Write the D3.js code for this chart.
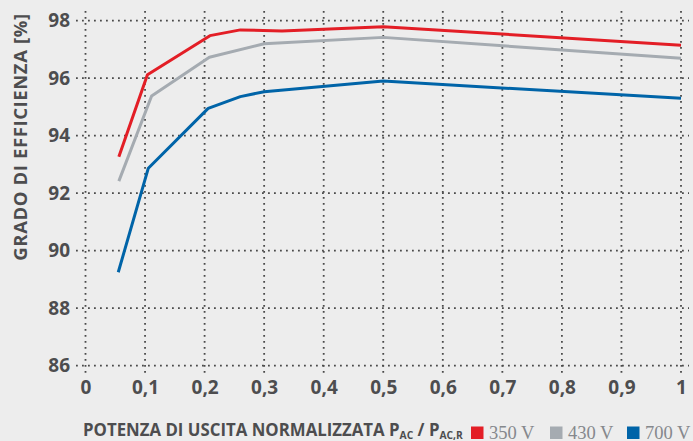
<!DOCTYPE html>
<html>
<head>
<meta charset="utf-8">
<script src="https://cdn.jsdelivr.net/npm/d3@7"></script>
<style>
  html, body { margin: 0; padding: 0; background: #ededed; }
  svg { display: block; }
  .cond { font-family: "Open Sans", "DejaVu Sans", sans-serif; font-weight: bold; fill: #4d4d4f; }
  .serif { font-family: "Liberation Serif", "DejaVu Serif", serif; fill: #85888c; }
</style>
</head>
<body>
<script>
// ---- data ----
const seriesNames = ["350 V", "430 V", "700 V"];
const seriesColors = ["#e31e26", "#a5abb1", "#0064a8"];
const x350 = [0.056, 0.104, 0.209, 0.26, 0.33, 0.5, 1.0];
const y350 = [93.27, 96.12, 97.48, 97.68, 97.64, 97.79, 97.15];
const x430 = [0.056, 0.111, 0.208, 0.3, 0.5, 1.0];
const y430 = [92.42, 95.38, 96.73, 97.2, 97.42, 96.69];
const x700 = [0.055, 0.1055, 0.206, 0.26, 0.3, 0.5, 1.0];
const y700 = [89.25, 92.87, 94.95, 95.36, 95.53, 95.9, 95.3];
const xTicks = [0, 0.1, 0.2, 0.3, 0.4, 0.5, 0.6, 0.7, 0.8, 0.9, 1];
const yTicks = [86, 88, 90, 92, 94, 96, 98];
const yLabel = "GRADO DI EFFICIENZA [%]";
const xLabel = "POTENZA DI USCITA NORMALIZZATA P";

const W = 693, H = 441;
const svg = d3.select("body").append("svg").attr("width", W).attr("height", H);
svg.append("rect").attr("width", W).attr("height", H).attr("fill", "#ededed");

const x = d3.scaleLinear().domain([0, 1]).range([85.5, 681]);
const y = d3.scaleLinear().domain([86, 98]).range([365.7, 20.7]);

// grid
const grid = svg.append("g");
grid.selectAll("line.v").data(xTicks).join("line")
  .attr("x1", d => x(d)).attr("x2", d => x(d))
  .attr("y1", 11).attr("y2", 374)
  .attr("stroke", "#4a4a4a").attr("stroke-width", 1.8)
  .attr("stroke-dasharray", "1.8 4.2");
grid.selectAll("line.h").data(yTicks).join("line")
  .attr("x1", 76).attr("x2", 689)
  .attr("y1", d => y(d)).attr("y2", d => y(d))
  .attr("stroke", "#4a4a4a").attr("stroke-width", 1.8)
  .attr("stroke-dasharray", "1.8 4.2");

// axes tick labels via d3 axes
const fmt = d => d === 0 ? "0" : (d === 1 ? "1" : d3.format(".1f")(d).replace(".", ","));
const yAxis = svg.append("g").attr("transform", "translate(77,0)")
  .call(d3.axisLeft(y).tickValues(yTicks).tickSize(0).tickPadding(7).tickFormat(d3.format("d")));
const xAxis = svg.append("g").attr("transform", "translate(0,374)")
  .call(d3.axisBottom(x).tickValues(xTicks).tickSize(0).tickPadding(6).tickFormat(fmt));
[yAxis, xAxis].forEach(a => {
  a.select(".domain").remove();
  a.selectAll("text").attr("class", "cond").attr("font-size", 19).attr("fill", "#4d4d4f");
});

// lines
const series = [[x350, y350], [x430, y430], [x700, y700]];
const line = d3.line().x(d => x(d[0])).y(d => y(d[1]));
series.forEach((s, i) => {
  svg.append("path")
    .datum(d3.zip(s[0], s[1]))
    .attr("d", line)
    .attr("fill", "none")
    .attr("stroke", seriesColors[i])
    .attr("stroke-width", 3)
    .attr("stroke-linejoin", "round");
});

// y label
svg.append("text").attr("class", "cond")
  .attr("transform", "translate(27,137) rotate(-90)")
  .attr("text-anchor", "middle")
  .attr("font-size", 18.5)
  .attr("letter-spacing", 0.6)
  .text(yLabel);

// x label (condensed horizontally to fit)
const xg = svg.append("g");
const xl = xg.append("text").attr("class", "cond")
  .attr("x", 0).attr("y", 0).attr("font-size", 18);
xl.append("tspan").text(xLabel);
xl.append("tspan").attr("font-size", 11).attr("dy", 2.5).text("AC");
xl.append("tspan").attr("font-size", 18).attr("dy", -2.5).text(" / P");
xl.append("tspan").attr("font-size", 11).attr("dy", 2.5).text("AC,R");
const wTitle = xl.node().getComputedTextLength();
const k = 380 / wTitle;
xg.attr("transform", `translate(83,436) scale(${k},1)`);

// legend
const legX = [471, 550, 627];
seriesNames.forEach((n, i) => {
  svg.append("rect").attr("x", legX[i]).attr("y", 426.5).attr("width", 12.5).attr("height", 12.5)
    .attr("fill", seriesColors[i]);
  svg.append("text").attr("class", "serif").attr("x", legX[i] + 18).attr("y", 438.5)
    .attr("font-size", 18.5).text(n);
});
</script>
</body>
</html>
